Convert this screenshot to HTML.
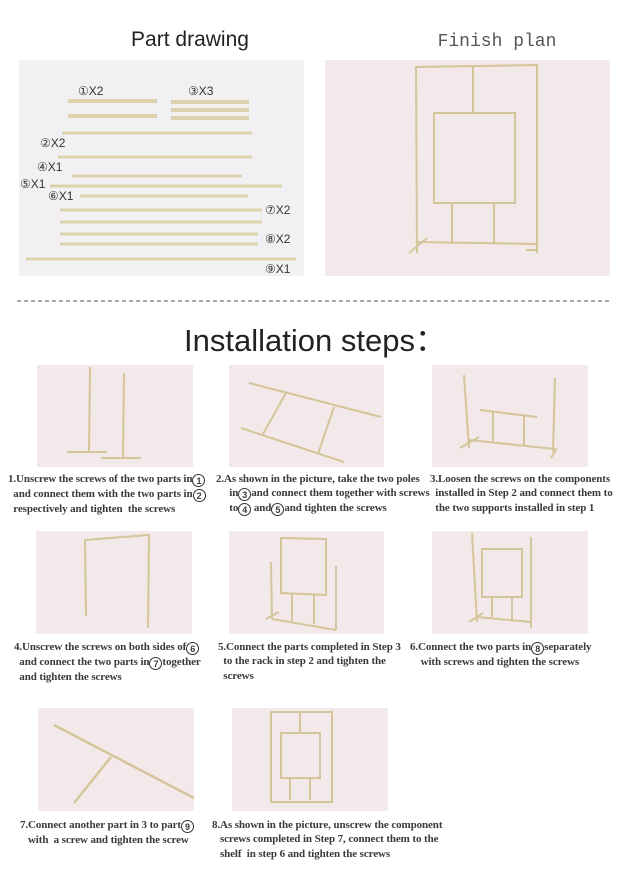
<!DOCTYPE html>
<html><head><meta charset="utf-8"><style>
body{margin:0;background:#fff;width:630px;height:894px;position:relative;overflow:hidden;font-family:"Liberation Serif",serif}
.t{position:absolute;font-size:11px;line-height:14.3px;color:#3a3a3a;white-space:nowrap;font-weight:bold;letter-spacing:-0.1px}
.c{display:inline-block;width:13px;height:13px;border:1px solid #333;border-radius:50%;font-size:9px;line-height:12px;text-align:center;vertical-align:-2px;box-sizing:border-box;font-family:"Liberation Sans",sans-serif}
</style></head><body>
<svg width="630" height="894" style="position:absolute;left:0;top:0" fill="none" stroke="#d6c9a0" stroke-width="2.5">
<text x="190" y="46" fill="#222" stroke="none" font-family="Liberation Sans" font-size="21" text-anchor="middle">Part drawing</text>
<text x="497" y="46" fill="#555" stroke="none" font-family="Liberation Mono" font-size="18" text-anchor="middle">Finish plan</text>
<rect x="19" y="60" width="285" height="216" fill="#f1f1f3" stroke="none"/>
<rect x="325" y="60" width="285" height="216" fill="#f4e9ea" stroke="none"/>
<g stroke="#dcd2ad" stroke-width="4">
<line x1="68" y1="101" x2="157" y2="101"/><line x1="68" y1="116" x2="157" y2="116"/>
<line x1="171" y1="102" x2="249" y2="102"/><line x1="171" y1="110" x2="249" y2="110"/><line x1="171" y1="118" x2="249" y2="118"/>
<line x1="62" y1="133" x2="252" y2="133" stroke-width="3"/><line x1="58" y1="157" x2="252" y2="157" stroke-width="3"/>
<line x1="72" y1="176" x2="242" y2="176" stroke-width="3"/><line x1="50" y1="186" x2="282" y2="186" stroke-width="3"/>
<line x1="80" y1="196" x2="248" y2="196" stroke-width="3"/>
<line x1="60" y1="210" x2="262" y2="210" stroke-width="3"/><line x1="60" y1="222" x2="262" y2="222" stroke-width="3"/>
<line x1="60" y1="234" x2="258" y2="234" stroke-width="3"/><line x1="60" y1="244" x2="258" y2="244" stroke-width="3"/>
<line x1="26" y1="259" x2="296" y2="259" stroke-width="3"/>
</g>
<g fill="#333" stroke="none" font-family="Liberation Sans" font-size="12">
<text x="78" y="95">①X2</text><text x="188" y="95">③X3</text><text x="40" y="147">②X2</text>
<text x="37" y="171">④X1</text><text x="20" y="188">⑤X1</text><text x="48" y="200">⑥X1</text>
<text x="265" y="214">⑦X2</text><text x="265" y="243">⑧X2</text><text x="265" y="273">⑨X1</text>
</g>
<g stroke="#d4c59a" stroke-width="2">
<polyline points="417,253 416,67 537,65 537,253"/><line x1="473" y1="66" x2="473" y2="113"/>
<rect x="434" y="113" width="81" height="90"/>
<line x1="452" y1="203" x2="452" y2="244"/><line x1="494" y1="203" x2="494" y2="244"/>
<line x1="418" y1="242" x2="537" y2="244"/><line x1="409" y1="253" x2="427" y2="238"/><line x1="526" y1="250" x2="537" y2="250"/>
</g>
<line x1="17" y1="301" x2="612" y2="301" stroke="#555" stroke-width="1" stroke-dasharray="4,3"/>
<text x="315" y="351" fill="#222" stroke="none" font-family="Liberation Sans" font-size="31" text-anchor="middle">Installation steps：</text>
<g fill="#f4e9ea" stroke="none">
<rect x="37" y="365" width="156" height="102"/><rect x="229" y="365" width="155" height="102"/><rect x="432" y="365" width="156" height="102"/>
<rect x="36" y="531" width="156" height="103"/><rect x="229" y="531" width="155" height="103"/><rect x="432" y="531" width="156" height="103"/>
<rect x="38" y="708" width="156" height="103"/><rect x="232" y="708" width="156" height="103"/>
</g>
<g stroke="#d4c59a" stroke-width="2">
<line x1="90" y1="367" x2="89" y2="451"/><line x1="67" y1="452" x2="107" y2="452"/>
<line x1="124" y1="373" x2="123" y2="458"/><line x1="101" y1="458" x2="141" y2="458"/>
<line x1="249" y1="383" x2="381" y2="417"/><line x1="241" y1="428" x2="344" y2="462"/>
<line x1="286" y1="393" x2="263" y2="434"/><line x1="334" y1="407" x2="318" y2="454"/>
<line x1="464" y1="375" x2="469" y2="448"/><line x1="555" y1="378" x2="553" y2="452"/>
<line x1="469" y1="440" x2="555" y2="449"/><line x1="460" y1="448" x2="479" y2="437"/><line x1="551" y1="458" x2="557" y2="448"/>
<line x1="480" y1="410" x2="537" y2="417"/><line x1="493" y1="412" x2="493" y2="441"/><line x1="524" y1="415" x2="524" y2="446"/>
<polyline points="86,616 85,540 149,535 148,628"/>
<polygon points="281,538 326,539 326,595 281,593"/>
<line x1="271" y1="562" x2="272" y2="619"/><line x1="336" y1="566" x2="336" y2="630"/>
<line x1="272" y1="619" x2="336" y2="630"/><line x1="266" y1="619" x2="279" y2="612"/>
<line x1="292" y1="594" x2="292" y2="621"/><line x1="314" y1="595" x2="314" y2="624"/>
<line x1="472" y1="533" x2="477" y2="622"/><line x1="531" y1="537" x2="531" y2="628"/>
<rect x="482" y="549" width="40" height="48"/>
<line x1="492" y1="597" x2="492" y2="617"/><line x1="512" y1="597" x2="512" y2="620"/>
<line x1="477" y1="617" x2="531" y2="622"/><line x1="469" y1="622" x2="483" y2="613"/>
<line x1="54" y1="725" x2="194" y2="798" stroke-width="2.5"/>
<line x1="111" y1="757" x2="74" y2="803" stroke-width="2.5"/>
<rect x="271" y="712" width="61" height="90"/>
<line x1="300" y1="712" x2="300" y2="733"/>
<rect x="281" y="733" width="39" height="45" fill="#f4e9ea"/>
<line x1="290" y1="778" x2="290" y2="800"/><line x1="310" y1="778" x2="310" y2="800"/>
</g>
</svg>
<div class="t" style="left:8px;top:472px">1.Unscrew the screws of the two parts in<span class="c">1</span><br>&nbsp;&nbsp;and connect them with the two parts in<span class="c">2</span><br>&nbsp;&nbsp;respectively and tighten&nbsp; the screws</div>
<div class="t" style="left:216px;top:472px">2.As shown in the picture, take the two poles<br>&nbsp;&nbsp;&nbsp;&nbsp;&nbsp;in<span class="c">3</span>and connect them together with screws<br>&nbsp;&nbsp;&nbsp;&nbsp;&nbsp;to<span class="c">4</span> and<span class="c">5</span>and tighten the screws</div>
<div class="t" style="left:430px;top:472px">3.Loosen the screws on the components<br>&nbsp;&nbsp;installed in Step 2 and connect them to<br>&nbsp;&nbsp;the two supports installed in step 1</div>
<div class="t" style="left:14px;top:640px">4.Unscrew the screws on both sides of<span class="c">6</span><br>&nbsp;&nbsp;and connect the two parts in<span class="c">7</span>together<br>&nbsp;&nbsp;and tighten the screws</div>
<div class="t" style="left:218px;top:640px">5.Connect the parts completed in Step 3<br>&nbsp;&nbsp;to the rack in step 2 and tighten the<br>&nbsp;&nbsp;screws</div>
<div class="t" style="left:410px;top:640px">6.Connect the two parts in<span class="c">8</span>separately<br>&nbsp;&nbsp;&nbsp;&nbsp;with screws and tighten the screws</div>
<div class="t" style="left:20px;top:818px">7.Connect another part in 3 to part<span class="c">9</span><br>&nbsp;&nbsp;&nbsp;with&nbsp; a screw and tighten the screw</div>
<div class="t" style="left:212px;top:818px">8.As shown in the picture, unscrew the component<br>&nbsp;&nbsp;&nbsp;screws completed in Step 7, connect them to the<br>&nbsp;&nbsp;&nbsp;shelf&nbsp; in step 6 and tighten the screws</div>
</body></html>
